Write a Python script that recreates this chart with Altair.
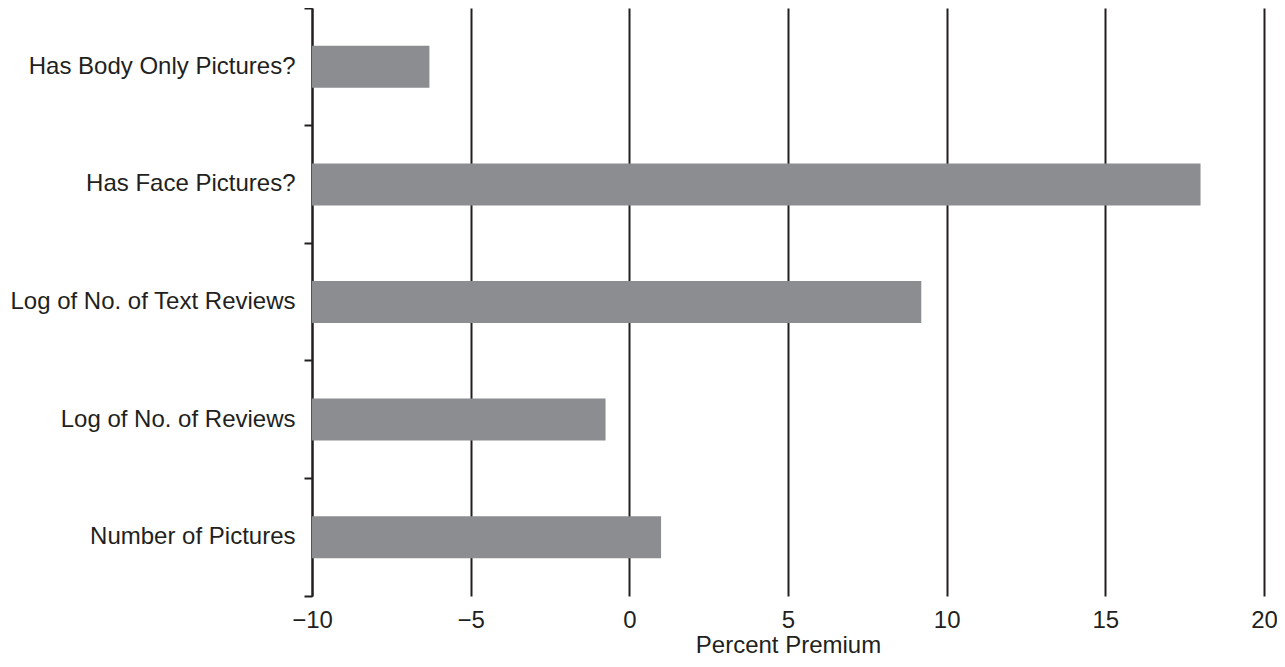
import altair as alt
import pandas as pd

categories = [
    "Has Body Only Pictures?",
    "Has Face Pictures?",
    "Log of No. of Text Reviews",
    "Log of No. of Reviews",
    "Number of Pictures",
]
values = [-6.3, 18.0, 9.2, -0.75, 1.0]
x_ticks = [-10, -5, 0, 5, 10, 15, 20]

df = pd.DataFrame({"variable": categories, "premium": values})

FONT = "Liberation Sans"
INK = "#231f20"

chart = (
    alt.Chart(df)
    .mark_bar(color="#8c8d91", height=alt.RelativeBandSize(0.357))
    .encode(
        y=alt.Y(
            "variable:N",
            sort=categories,
            scale=alt.Scale(paddingInner=0, paddingOuter=0),
            axis=alt.Axis(
                title=None,
                domain=True,
                domainColor=INK,
                domainWidth=2,
                ticks=True,
                tickColor=INK,
                tickWidth=2,
                tickSize=8,
                bandPosition=1,
                tickExtra=True,
                grid=False,
                labelPadding=9,
                labelFont=FONT,
                labelFontSize=24,
                labelColor=INK,
                labelLimit=400,
            ),
        ),
        x=alt.X(
            "premium:Q",
            scale=alt.Scale(domain=[-10, 20], nice=False, zero=False),
            axis=alt.Axis(
                title="Percent Premium",
                values=x_ticks,
                domain=False,
                ticks=False,
                tickSize=0,
                grid=True,
                gridColor=INK,
                gridWidth=2,
                gridOpacity=1,
                labelPadding=12,
                labelFont=FONT,
                labelFontSize=24,
                labelColor=INK,
                labelFlush=False,
                titleFont=FONT,
                titleFontSize=24,
                titleFontWeight="normal",
                titleColor=INK,
                titlePadding=1,
            ),
        ),
        x2=alt.datum(-10),
    )
    .properties(
        width=952,
        height=588,
        autosize=alt.AutoSizeParams(type="none"),
        padding={"left": 304, "top": 0, "right": 13, "bottom": 63},
    )
    .configure_view(strokeWidth=0)
)

chart.save("out.html", embed_options={"renderer": "svg", "actions": False})
